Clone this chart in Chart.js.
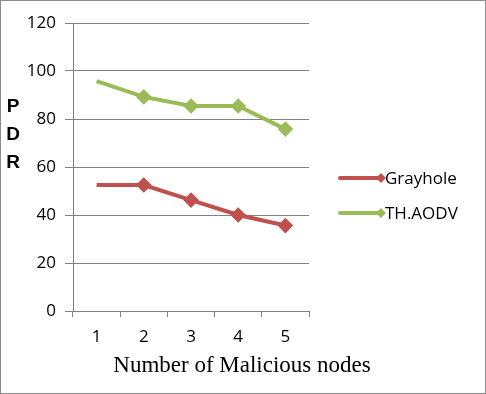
<!DOCTYPE html>
<html>
<head>
<meta charset="utf-8">
<script src="https://cdn.jsdelivr.net/npm/chart.js@4"></script>
<style>
  body { margin: 0; background: #fff; }
  #wrap { width: 486px; height: 394px; }
</style>
</head>
<body>
<div id="wrap"><canvas id="pdrChart" width="486" height="394"></canvas></div>
<script>
// datos
const nodes = ['1', '2', '3', '4', '5'];
const grayhole = [52.5, 52.5, 46.2, 40, 35.6];
const thAodv = [95.8, 89.2, 85.4, 85.4, 75.8];
const yTicks = [0, 20, 40, 60, 80, 100, 120];

const red = '#C0504D';
const green = '#9BBB59';
const tickFont = { family: 'Open Sans', size: 17 };

// marco, titulos y leyenda dibujados a mano
const extras = {
    id: 'extras',
    afterDraw(chart) {
        const c = chart.ctx;
        c.save();
        c.strokeStyle = '#8c8c8c';
        c.lineWidth = 1;
        c.strokeRect(0.5, 0.5, 485, 393);

        c.fillStyle = '#000';
        c.font = 'bold 19px "Liberation Sans"';
        c.textAlign = 'center';
        c.textBaseline = 'middle';
        ['P', 'D', 'R'].forEach((l, i) => c.fillText(l, 13, 107 + i * 28));

        c.font = '23px "Liberation Serif"';
        c.fillText('Number of Malicious nodes', 242, 366);

        // leyenda
        c.font = '17px "Open Sans"';
        c.textAlign = 'left';
        chart.data.datasets.forEach((ds, i) => {
            const y = 178 + i * 35;
            c.strokeStyle = ds.borderColor;
            c.lineWidth = 4;
            c.lineCap = 'round';
            c.beginPath();
            c.moveTo(340, y);
            c.lineTo(380, y);
            c.stroke();
            c.fillStyle = ds.borderColor;
            c.beginPath();
            c.moveTo(381, y - 5);
            c.lineTo(386, y);
            c.lineTo(381, y + 5);
            c.lineTo(376, y);
            c.closePath();
            c.fill();
            c.fillStyle = '#000';
            c.fillText(ds.label, 385, y + 1);
        });
        c.restore();
    }
};

new Chart(document.getElementById('pdrChart'), {
    type: 'line',
    data: {
        labels: nodes,
        datasets: [
            {
                label: 'Grayhole',
                data: grayhole,
                borderColor: red,
                backgroundColor: red,
                borderWidth: 4,
                pointStyle: 'rectRot',
                pointRadius: [0, 5, 5, 5, 5],
                tension: 0
            },
            {
                label: 'TH.AODV',
                data: thAodv,
                borderColor: green,
                backgroundColor: green,
                borderWidth: 4,
                pointStyle: 'rectRot',
                pointRadius: [0, 5, 5, 5, 5],
                tension: 0
            }
        ]
    },
    options: {
        responsive: false,
        animation: false,
        layout: { padding: { left: 0, top: 23, right: 177, bottom: 23 } },
        scales: {
            x: {
                offset: true,
                grid: {
                    offset: true,
                    drawOnChartArea: false,
                    drawTicks: true,
                    tickLength: 6,
                    color: '#808080'
                },
                border: { color: '#808080', width: 1 },
                ticks: { color: '#000', font: tickFont, padding: 10 },
                afterFit(scale) { scale.height = 60; }
            },
            y: {
                min: 0,
                max: 120,
                afterBuildTicks(scale) { scale.ticks = yTicks.map(v => ({ value: v })); },
                grid: { color: '#808080', tickLength: 8 },
                border: { color: '#808080', width: 1 },
                ticks: { color: '#000', font: tickFont, padding: 9 },
                afterFit(scale) { scale.width = 73; }
            }
        },
        plugins: {
            legend: { display: false },
            tooltip: { enabled: false }
        }
    },
    plugins: [extras]
});
</script>
</body>
</html>
